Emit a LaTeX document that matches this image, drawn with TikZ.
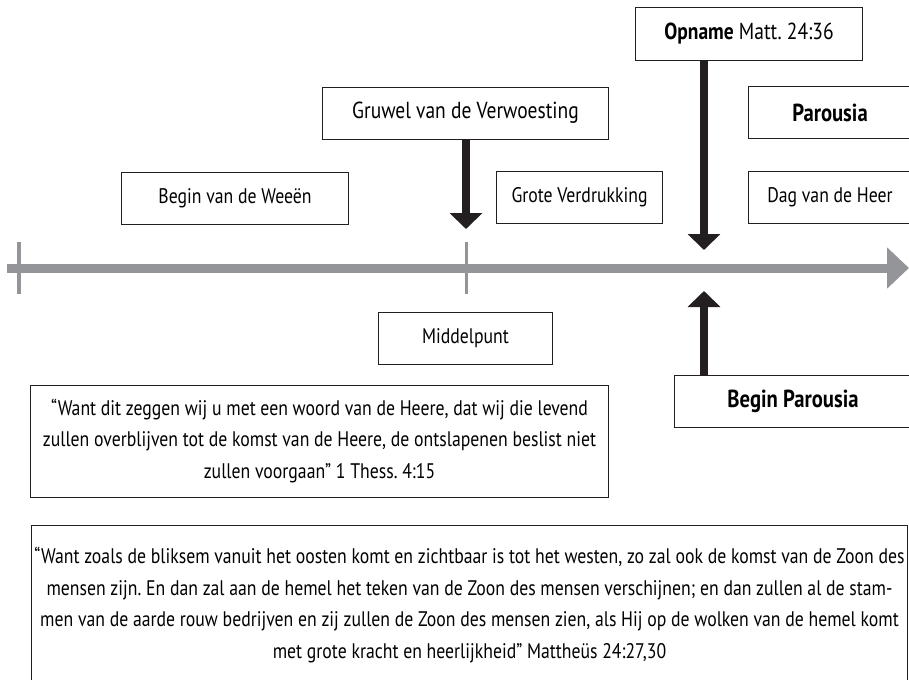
\documentclass[tikz,border=0pt]{standalone}
\usepackage{fontspec}
\setmainfont[FakeStretch=0.84]{PT Sans}
\usepackage{tikz}
\usetikzlibrary{positioning,arrows.meta,calc}
\definecolor{linegrey}{RGB}{147,149,152}
\definecolor{inkblack}{RGB}{35,31,32}
\frenchspacing

\begin{document}
\begin{tikzpicture}[x=0.025cm, y=0.025cm,
event/.style ={rectangle, draw=inkblack, line width=0.7pt, text centered, fill=white, inner sep=0pt, minimum height=1.3cm, font=\fontsize{15}{22}\selectfont},
topevent/.style ={event, font=\fontsize{16.5}{22}\selectfont},
bigevent/.style ={event, font=\fontsize{17.5}{22}\selectfont\bfseries},
quote/.style ={rectangle, draw=inkblack, line width=0.7pt, align=center, inner sep=0pt, font=\fontsize{15}{22.3}\selectfont},
timeline/.style ={-{Triangle[width=1cm,length=0.55cm]}, line width=0.225cm, linegrey},
tick/.style ={-, line width=0.075cm, linegrey},
pointer/.style ={-{Triangle[width=0.8cm,length=0.4cm]}, line width=0.2cm, inkblack},
]
\useasboundingbox (0,0) rectangle (909,-679);

\node (OPNAME) [topevent, minimum width=5.65cm, minimum height=1.325cm] at (749,-33.5) {\textbf{Opname} Matt. 24:36};
\node (GRUWEL) [topevent, minimum width=7.125cm] at (465.5,-113) {Gruwel van de Verwoesting};
\node (PAROUSIA) [bigevent, minimum width=4.05cm] at (830,-112.5) {Parousia};
\node (DAG) [event, below of=PAROUSIA, node distance=2.125cm, minimum width=4.075cm] {Dag van de Heer};
\node (WEEEN) [event, minimum width=5.65cm] at (235,-198) {Begin van de Weeën};
\node (GROTE) [event, minimum width=4.125cm] at (579.5,-197.5) {Grote Verdrukking};
\node (MIDDEL) [event, minimum width=4.325cm] at (465.5,-338) {Middelpunt};
\node (BEGINPAR) [bigevent, minimum width=5.9cm] at (793,-401) {Begin Parousia};

\node (THESS) [quote, minimum width=14.425cm, minimum height=2.8cm] at (319.5,-441)
  {“Want dit zeggen wij u met een woord van de Heere, dat wij die levend\\
   zullen overblijven tot de komst van de Heere, de ontslapenen beslist niet\\
   zullen voorgaan” 1 Thess. 4:15};
\node (MATT) [quote, minimum width=21.875cm, minimum height=3.95cm] at (469.5,-605)
  {“Want zoals de bliksem vanuit het oosten komt en zichtbaar is tot het westen, zo zal ook de komst van de Zoon des\\
   mensen zijn. En dan zal aan de hemel het teken van de Zoon des mensen verschijnen; en dan zullen al de stam-\\
   men van de aarde rouw bedrijven en zij zullen de Zoon des mensen zien, als Hij op de wolken van de hemel komt\\
   met grote kracht en heerlijkheid” Mattheüs 24:27,30};

% time line with ticks
\coordinate (START) at (7,-268);
\coordinate (END) at (909,-268);
\coordinate (TFIRST) at (19,-268);
\coordinate (TMID) at (466,-268);
\coordinate (PMARK) at (704,-268);
\draw[timeline] (START) -- (END);
\draw[tick] ($(TFIRST)+(0,26)$) -- ($(TFIRST)-(0,26)$);
\draw[tick] ($(TMID)+(0,26)$) -- ($(TMID)-(0,26)$);

\draw[pointer] (GRUWEL.south -| TMID) -- ($(TMID)+(0,39)$);
\draw[pointer] (OPNAME.south -| PMARK) -- ($(PMARK)+(0,18)$);
\draw[pointer] (BEGINPAR.north -| PMARK) -- ($(PMARK)-(0,23)$);

\end{tikzpicture}
\end{document}
